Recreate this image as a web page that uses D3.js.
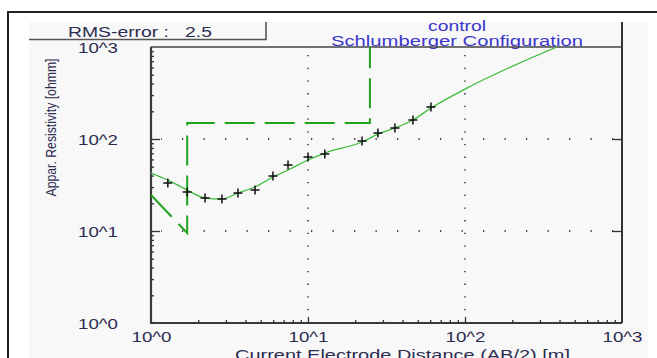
<!DOCTYPE html>
<html>
<head>
<meta charset="utf-8">
<script src="https://cdn.jsdelivr.net/npm/d3@7"></script>
<style>
  body { margin: 0; background: #fff; }
  text { font-family: "Liberation Sans", Arial, sans-serif; }
</style>
</head>
<body>
<div id="vis"></div>
<script>
const FRAME_WIDTH = 657;
const FRAME_HEIGHT = 358;
const PLOT = {left: 151, right: 622, top: 47, bottom: 323};

// field data (AB/2 in m, apparent resistivity in ohmm)
const AB2_OBS = [1.28, 1.7, 2.21, 2.83, 3.58, 4.6, 5.98, 7.46, 10, 12.8, 22.1, 27.9, 35.8, 46.6, 60.7];
const RHO_OBS = [33.2, 26.5, 22.8, 22.3, 25.9, 27.9, 39.6, 52.2, 63.7, 68.7, 95, 116, 132, 161, 223];

// calculated curve
const AB2_FIT = [1, 1.28, 1.7, 2.21, 2.83, 3.58, 4.6, 5.98, 7.46, 10, 12.8, 22.1, 27.9, 35.8, 46.6, 60.7, 100, 385];
const RHO_FIT = [42.7, 35.8, 27.9, 22.8, 22.3, 25.9, 30.1, 38.6, 46, 59.1, 70.4, 92.8, 113, 132, 161, 217, 349, 1000];

// layered model
const AB2_LAYER = [1, 1.7, 1.7, 24.8, 24.8];
const RHO_LAYER = [24.6, 9.5, 149, 149, 1000];

const DECADES = [1, 10, 100, 1000];
const DECADE_LABELS = ["10^0", "10^1", "10^2", "10^3"];
const INNER_DECADES = [10, 100];

const RMS_TEXT = "RMS-error :   2.5";
const TITLE_1 = "control";
const TITLE_2 = "Schlumberger Configuration";
const X_TITLE = "Current Electrode Distance (AB/2) [m]";
const Y_TITLE = "Appar. Resistivity [ohmm]";

const svg = d3.select("#vis")
  .append("svg")
    .attr("width", FRAME_WIDTH)
    .attr("height", FRAME_HEIGHT);

const X_SCALE = d3.scaleLog()
  .domain([1, 1000])
  .range([PLOT.left, PLOT.right]);

const Y_SCALE = d3.scaleLog()
  .domain([1, 1000])
  .range([PLOT.bottom, PLOT.top]);

// window frame + panel
svg.append("rect")
  .attr("x", 29).attr("y", 22)
  .attr("width", 619).attr("height", 336)
  .attr("fill", "#f8f8f8");

svg.append("path")
  .attr("d", "M8,358V12H657")
  .attr("fill", "none")
  .attr("stroke", "#222")
  .attr("stroke-width", 2);

// RMS box
svg.append("path")
  .attr("d", "M29,39.5H266V22")
  .attr("fill", "none")
  .attr("stroke", "#555")
  .attr("stroke-width", 1.6);

svg.append("text")
  .attr("x", 68).attr("y", 37)
  .attr("font-size", 14)
  .attr("fill", "#2c2c50")
  .attr("textLength", 144)
  .attr("lengthAdjust", "spacingAndGlyphs")
  .style("white-space", "pre")
  .text(RMS_TEXT);

// titles
svg.append("text")
  .attr("x", 457).attr("y", 31)
  .attr("text-anchor", "middle")
  .attr("font-size", 14)
  .attr("fill", "#3a36cc")
  .attr("textLength", 58)
  .attr("lengthAdjust", "spacingAndGlyphs")
  .text(TITLE_1);

svg.append("text")
  .attr("x", 457).attr("y", 45.5)
  .attr("text-anchor", "middle")
  .attr("font-size", 14)
  .attr("fill", "#3a36cc")
  .attr("textLength", 252)
  .attr("lengthAdjust", "spacingAndGlyphs")
  .text(TITLE_2);

// grid (dotted)
svg.selectAll(".vgrid")
  .data(INNER_DECADES)
  .enter()
  .append("line")
    .attr("x1", (d) => X_SCALE(d)).attr("x2", (d) => X_SCALE(d))
    .attr("y1", PLOT.bottom).attr("y2", PLOT.top)
    .attr("stroke", "#111")
    .attr("stroke-width", 1.3)
    .attr("stroke-dasharray", "1.3,11.4");

svg.selectAll(".hgrid")
  .data(INNER_DECADES)
  .enter()
  .append("line")
    .attr("x1", PLOT.left + 10).attr("x2", PLOT.right)
    .attr("y1", (d) => Y_SCALE(d)).attr("y2", (d) => Y_SCALE(d))
    .attr("stroke", "#111")
    .attr("stroke-width", 1.3)
    .attr("stroke-dasharray", "1.3,20.2")
    .attr("stroke-dashoffset", -21);

// ticks
const minorX = X_SCALE.ticks().filter((d) => !DECADES.includes(d));
const minorY = Y_SCALE.ticks().filter((d) => !DECADES.includes(d));

function clean(g) {
  g.select(".domain").remove();
  g.selectAll("line").attr("stroke", "#333").attr("stroke-width", 1.3);
}

svg.append("g")
  .attr("transform", `translate(${PLOT.left},0)`)
  .call(d3.axisLeft(Y_SCALE).tickValues(INNER_DECADES).tickSize(-9).tickFormat(""))
  .call(clean);
svg.append("g")
  .attr("transform", `translate(${PLOT.left},0)`)
  .call(d3.axisLeft(Y_SCALE).tickValues(minorY).tickSize(-3).tickFormat(""))
  .call(clean);
svg.append("g")
  .attr("transform", `translate(${PLOT.right},0)`)
  .call(d3.axisRight(Y_SCALE).tickValues(INNER_DECADES).tickSize(-10).tickFormat(""))
  .call(clean);
svg.append("g")
  .attr("transform", `translate(0,${PLOT.bottom})`)
  .call(d3.axisBottom(X_SCALE).tickValues(INNER_DECADES).tickSize(-6).tickFormat(""))
  .call(clean);
svg.append("g")
  .attr("transform", `translate(0,${PLOT.bottom})`)
  .call(d3.axisBottom(X_SCALE).tickValues(minorX).tickSize(-3).tickFormat(""))
  .call(clean);

// tick labels
const yLabels = svg.append("g")
  .attr("transform", `translate(${PLOT.left},1.5)`)
  .call(d3.axisLeft(Y_SCALE).tickValues(DECADES).tickSize(0).tickPadding(33)
    .tickFormat((d, i) => DECADE_LABELS[i]));
yLabels.select(".domain").remove();

const xLabels = svg.append("g")
  .attr("transform", `translate(0,${PLOT.bottom})`)
  .call(d3.axisBottom(X_SCALE).tickValues(DECADES).tickSize(0).tickPadding(9)
    .tickFormat((d, i) => DECADE_LABELS[i]));
xLabels.select(".domain").remove();

svg.selectAll(".tick text")
  .attr("font-family", "Liberation Sans, Arial, sans-serif")
  .attr("font-size", 14)
  .attr("fill", "#2c2c50")
  .attr("textLength", 40)
  .attr("lengthAdjust", "spacingAndGlyphs");

// axis titles
svg.append("text")
  .attr("x", 235).attr("y", 359.5)
  .attr("font-size", 14)
  .attr("fill", "#2c2c50")
  .attr("textLength", 335)
  .attr("lengthAdjust", "spacingAndGlyphs")
  .text(X_TITLE);

svg.append("text")
  .attr("transform", "translate(55.5,127.5) rotate(-90)")
  .attr("text-anchor", "middle")
  .attr("font-size", 15.5)
  .attr("fill", "#2c2c50")
  .attr("textLength", 138)
  .attr("lengthAdjust", "spacingAndGlyphs")
  .text(Y_TITLE);

// plot frame
svg.append("line")
  .attr("x1", PLOT.left).attr("x2", PLOT.right)
  .attr("y1", PLOT.top).attr("y2", PLOT.top)
  .attr("stroke", "#444").attr("stroke-width", 1.6);
svg.append("line")
  .attr("x1", PLOT.right).attr("x2", PLOT.right)
  .attr("y1", 22).attr("y2", PLOT.bottom)
  .attr("stroke", "#333").attr("stroke-width", 2);
svg.append("path")
  .attr("d", `M${PLOT.left},${PLOT.top}V${PLOT.bottom}H${PLOT.right}`)
  .attr("fill", "none")
  .attr("stroke", "#3a3a3a").attr("stroke-width", 2.2);

// curves
svg.append("clipPath").attr("id", "clip")
  .append("rect")
    .attr("x", PLOT.left).attr("y", PLOT.top)
    .attr("width", PLOT.right - PLOT.left).attr("height", PLOT.bottom - PLOT.top);

const layerLine = d3.line()
  .x((d, i) => X_SCALE(AB2_LAYER[i]))
  .y((d) => Y_SCALE(d));

svg.append("path")
  .datum(RHO_LAYER)
  .attr("clip-path", "url(#clip)")
  .attr("d", layerLine)
  .attr("fill", "none")
  .attr("stroke", "#1ea31e")
  .attr("stroke-width", 2)
  .attr("stroke-dasharray", "30,10");

const fitLine = d3.line()
  .x((d, i) => X_SCALE(AB2_FIT[i]))
  .y((d) => Y_SCALE(d))
  .curve(d3.curveMonotoneX);

svg.append("path")
  .datum(RHO_FIT)
  .attr("clip-path", "url(#clip)")
  .attr("d", fitLine)
  .attr("fill", "none")
  .attr("stroke", "#3cbc3c")
  .attr("stroke-width", 1.3);

// observed points as "+"
svg.selectAll(".obs")
  .data(RHO_OBS)
  .enter()
  .append("path")
    .attr("d", (d, i) => {
      const cx = X_SCALE(AB2_OBS[i]), cy = Y_SCALE(d);
      return `M${cx - 4.5},${cy}H${cx + 4.5}M${cx},${cy - 4.5}V${cy + 4.5}`;
    })
    .attr("stroke", "#111")
    .attr("stroke-width", 1.5);
</script>
</body>
</html>
